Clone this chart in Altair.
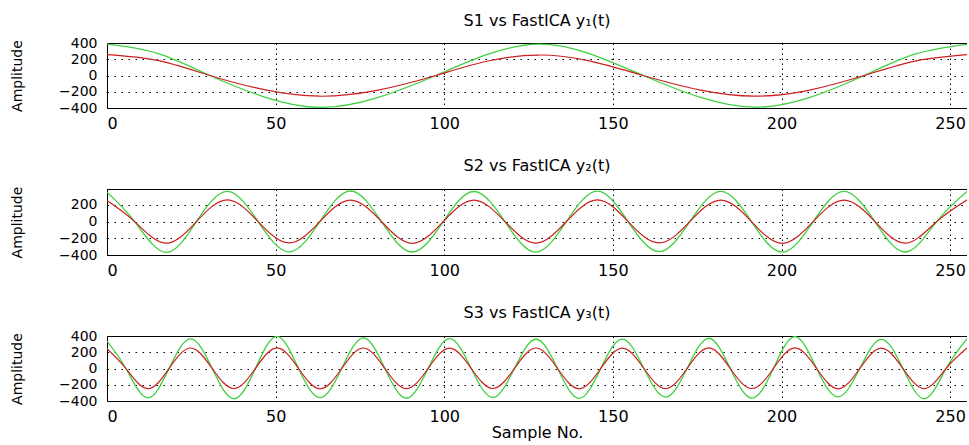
import altair as alt
import pandas as pd

FONT = "DejaVu Sans"
RED = "#cc1f1f"
GREEN = "#3fd03f"

# ---- data (sample no., amplitude) ----
x_ticks = [0, 50, 100, 150, 200, 250]
x_domain = [0, 255]

# Panel 1: S1 vs FastICA y1(t)
p1_t = [0, 15, 30.5, 47, 63, 80, 97.5, 113, 128, 143, 159, 176, 192, 208, 224.5, 240, 255]
p1_s = [258, 186, 0, -178, -255, -184, 0, 178, 252, 180, 0, -180, -254, -182, 0, 180, 256]
p1_y = [385, 272, 0, -268, -392, -275, 0, 262, 386, 270, 0, -270, -390, -275, 0, 268, 384]

# Panel 2: S2 vs FastICA y2(t)
p2_t = [0, 8.2, 17.4, 26.5, 35.7, 44.8, 54.0, 63.1, 72.2, 81.4, 90.5, 99.7, 108.8, 118.0,
        127.1, 136.2, 145.4, 154.5, 163.7, 172.8, 182.0, 191.1, 200.2, 209.4, 218.5, 227.7,
        236.8, 246.0, 255.0]
p2_s = [252, 0, -258, 0, 260, 0, -256, 0, 258, 0, -260, 0, 256, 0, -258, 0, 260, 0, -256, 0,
        258, 0, -260, 0, 256, 0, -258, 0, 258]
p2_y = [352, 0, -368, 0, 362, 0, -362, 0, 366, 0, -364, 0, 360, 0, -366, 0, 364, 0, -360, 0,
        362, 0, -366, 0, 362, 0, -364, 0, 360]

# Panel 3: S3 vs FastICA y3(t)
p3_t = [0, 5.6, 12.0, 18.4, 24.8, 31.2, 37.6, 44.0, 50.4, 56.8, 63.2, 69.6, 76.0, 82.4, 88.8,
        95.2, 101.6, 108.0, 114.4, 120.8, 127.2, 133.6, 140.0, 146.4, 152.8, 159.2, 165.6,
        172.0, 178.4, 184.8, 191.2, 197.6, 204.0, 210.4, 216.8, 223.2, 229.6, 236.0, 242.4,
        248.8, 255.0]
p3_s = [245, 0, -248, 0, 252, 0, -246, 0, 255, 0, -250, 0, 252, 0, -248, 0, 250, 0, -246, 0,
        252, 0, -250, 0, 250, 0, -248, 0, 254, 0, -246, 0, 255, 0, -250, 0, 250, 0, -248, 0, 252]
p3_y = [338, 0, -362, 0, 365, 0, -372, 0, 395, 0, -358, 0, 378, 0, -366, 0, 368, 0, -356, 0,
        360, 0, -368, 0, 362, 0, -352, 0, 372, 0, -364, 0, 392, 0, -350, 0, 358, 0, -372, 0, 368]

titles = ["S1 vs FastICA y\u2081(t)", "S2 vs FastICA y\u2082(t)", "S3 vs FastICA y\u2083(t)"]
y_domains = [[-400, 400], [-400, 390], [-400, 400]]
y_ticks = [[-400, -200, 0, 200, 400], [-400, -200, 0, 200], [-400, -200, 0, 200, 400]]
heights = [65, 66, 65]
title_offsets = [7, 12, 8]

W = 860


def panel(t, s, g, title, ydom, yticks, h, toff, xtitle):
    df_s = pd.DataFrame({"t": t, "v": s})
    df_g = pd.DataFrame({"t": t, "v": g})
    yaxis = alt.Axis(values=yticks, title="Amplitude", grid=True, gridDash=[1.5, 5.5],
                     gridColor="#000", gridOpacity=1, domain=True, domainColor="#000",
                     ticks=False, labelPadding=10, labelFont=FONT, labelFontSize=14,
                     labelColor="#000", titleFont=FONT, titleFontSize=14,
                     titleFontWeight="normal", titleColor="#000", titleX=-90, titleY=h / 2,
                     titleAlign="center", titleBaseline="middle", titleAngle=270)
    yscale = alt.Scale(domain=ydom, nice=False, zero=False)
    xscale = alt.Scale(domain=x_domain, nice=False, zero=False)
    bottom_axis = alt.Axis(values=x_ticks, orient="bottom", grid=True, gridDash=[1.5, 3.5],
                           gridColor="#000", gridOpacity=1, domain=True, domainColor="#000",
                           ticks=False, labelPadding=7, labelFont=FONT, labelFontSize=16,
                           labelColor="#000", title=xtitle, titleFont=FONT, titleFontSize=16,
                           titleFontWeight="normal", titleColor="#000", titlePadding=0)
    top_axis = alt.Axis(orient="top", labels=False, ticks=False, grid=False, domain=True,
                        domainColor="#000", title=None)
    green = alt.Chart(df_g).mark_line(color=GREEN, strokeWidth=1.3, interpolate="natural",
                                      clip=True).encode(
        x=alt.X("t:Q", scale=xscale, axis=top_axis),
        y=alt.Y("v:Q", scale=yscale, axis=yaxis),
    )
    red = alt.Chart(df_s).mark_line(color=RED, strokeWidth=1.2, interpolate="natural",
                                    clip=True).encode(
        x=alt.X("t:Q", scale=xscale, axis=bottom_axis),
        y=alt.Y("v:Q", scale=yscale, axis=yaxis),
    )
    return alt.layer(green, red).resolve_axis(x="independent").properties(
        width=W, height=h,
        title=alt.TitleParams(text=title, font=FONT, fontSize=16, fontWeight="normal",
                              color="#000", offset=toff, anchor="middle"),
    )


p1 = panel(p1_t, p1_s, p1_y, titles[0], y_domains[0], y_ticks[0], heights[0], title_offsets[0], None)
p2 = panel(p2_t, p2_s, p2_y, titles[1], y_domains[1], y_ticks[1], heights[1], title_offsets[1], None)
p3 = panel(p3_t, p3_s, p3_y, titles[2], y_domains[2], y_ticks[2], heights[2], title_offsets[2],
           "Sample No.")

chart = alt.vconcat(p1, p2, p3, spacing=27).properties(
    padding={"left": 10, "top": 13, "right": 0, "bottom": 1},
    background="white",
).configure_view(stroke=None)

chart.save("out.html", embed_options={"renderer": "svg", "actions": False})
